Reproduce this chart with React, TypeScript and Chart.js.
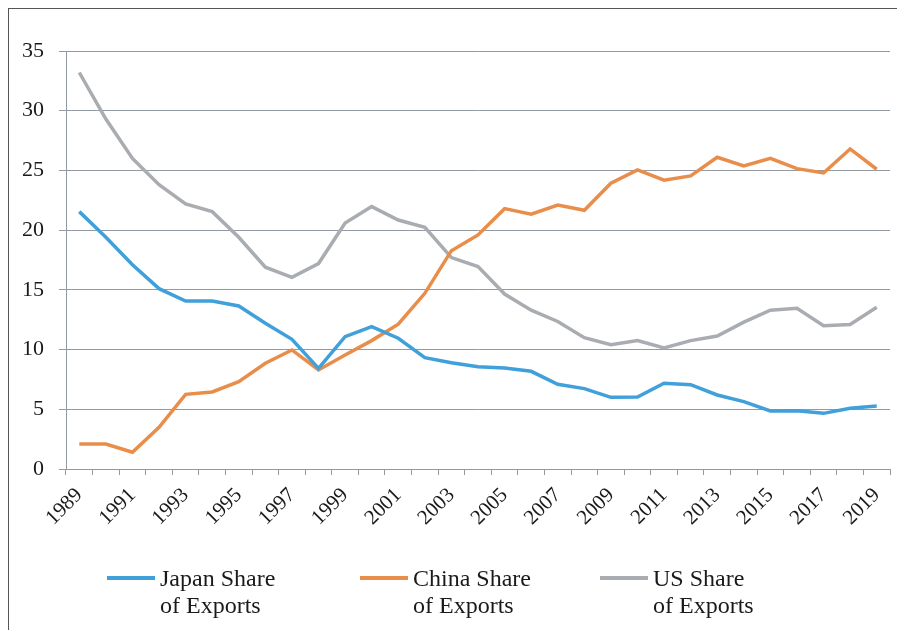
import React, { useEffect, useRef } from "react";
import { Chart, registerables } from "chart.js";

Chart.register(...registerables);

const years = [
  "1989", "1990", "1991", "1992", "1993", "1994", "1995", "1996", "1997", "1998",
  "1999", "2000", "2001", "2002", "2003", "2004", "2005", "2006", "2007", "2008",
  "2009", "2010", "2011", "2012", "2013", "2014", "2015", "2016", "2017", "2018", "2019",
];

const japanShare = [
  21.55, 19.4, 17.1, 15.1, 14.07, 14.07, 13.65, 12.2, 10.86, 8.43,
  11.08, 11.92, 10.95, 9.32, 8.9, 8.57, 8.46, 8.18, 7.09, 6.73,
  6.0, 6.03, 7.18, 7.06, 6.2, 5.64, 4.86, 4.88, 4.66, 5.08, 5.28,
];

const chinaShare = [
  2.09, 2.09, 1.4, 3.49, 6.25, 6.45, 7.31, 8.85, 9.97, 8.29,
  9.55, 10.75, 12.12, 14.71, 18.28, 19.6, 21.8, 21.33, 22.1, 21.66,
  23.93, 25.04, 24.18, 24.54, 26.1, 25.38, 26.02, 25.15, 24.79, 26.8, 25.1,
];

const usShare = [
  33.2, 29.3, 26.0, 23.8, 22.2, 21.55, 19.4, 16.9, 16.05, 17.2,
  20.6, 21.97, 20.85, 20.24, 17.7, 16.95, 14.65, 13.3, 12.35, 11.0,
  10.4, 10.75, 10.13, 10.75, 11.14, 12.3, 13.3, 13.45, 12.0, 12.1, 13.55,
];

const seriesNames = [
  ["Japan Share", "of Exports"],
  ["China Share", "of Exports"],
  ["US Share", "of Exports"],
];
const seriesColors = ["#3fa0da", "#e98d4a", "#a9acb1"];

const gridColor = "#939aa3";
const textColor = "#1a1a1a";
const fontFamily = "'Liberation Serif', 'Times New Roman', serif";

export default function App() {
  const canvasRef = useRef<HTMLCanvasElement | null>(null);

  useEffect(() => {
    const canvas = canvasRef.current;
    if (!canvas) return;
    const values = [japanShare, chinaShare, usShare];
    const chart = new Chart(canvas, {
      type: "line",
      data: {
        labels: years,
        datasets: values.map((v, i) => ({
          label: seriesNames[i].join(" "),
          data: v,
          borderColor: seriesColors[i],
          backgroundColor: seriesColors[i],
          borderWidth: 3.5,
          pointRadius: 0,
          tension: 0,
          fill: false,
        })),
      },
      options: {
        responsive: false,
        animation: false,
        devicePixelRatio: 1,
        layout: { padding: { top: 42, right: 7, left: 0, bottom: 0 } },
        plugins: {
          legend: { display: false },
          tooltip: { enabled: false },
        },
        scales: {
          x: {
            offset: true,
            grid: {
              offset: true,
              drawOnChartArea: false,
              drawTicks: true,
              tickLength: 6,
              color: gridColor,
              lineWidth: 1,
            },
            border: { display: true, color: gridColor, width: 1 },
            ticks: {
              autoSkip: false,
              maxRotation: 45,
              minRotation: 45,
              padding: 8,
              color: textColor,
              font: { family: fontFamily, size: 21 },
              callback: function (_v: any, index: number) {
                return index % 2 === 0 ? years[index] : "";
              },
            },
            afterFit: (scale: any) => {
              scale.height = 100;
              scale.paddingLeft = 0;
              scale.paddingRight = 0;
            },
          },
          y: {
            min: 0,
            max: 35,
            grid: {
              color: gridColor,
              lineWidth: 1,
              tickLength: 7,
              drawTicks: true,
            },
            border: { display: true, color: gridColor, width: 1 },
            ticks: {
              stepSize: 5,
              padding: 15,
              color: textColor,
              font: { family: fontFamily, size: 22 },
            },
            afterFit: (scale: any) => {
              scale.width = 57;
              scale.paddingTop = 0;
              scale.paddingBottom = 0;
            },
          },
        },
      },
    });
    return () => chart.destroy();
  }, []);

  const legendLefts = [98, 351, 591];

  return (
    <div
      style={{
        position: "fixed",
        left: 8,
        top: 8,
        width: 889,
        height: 622,
        boxSizing: "border-box",
        borderTop: "1px solid #555",
        borderLeft: "1px solid #555",
        background: "#fff",
      }}
    >
      <canvas
        ref={canvasRef}
        width={888}
        height={560}
        style={{ position: "absolute", left: 0, top: 0, width: 888, height: 560 }}
      />
      {seriesNames.map((lines, i) => (
        <div
          key={i}
          style={{
            position: "absolute",
            left: legendLefts[i],
            top: 556,
            display: "flex",
            alignItems: "flex-start",
            fontFamily,
            fontSize: 24,
            lineHeight: "27px",
            color: textColor,
          }}
        >
          <div
            style={{
              width: 48,
              height: 4,
              marginTop: 11,
              marginRight: 5,
              background: seriesColors[i],
            }}
          />
          <div>
            {lines.map((t, j) => (
              <div key={j} style={{ whiteSpace: "nowrap" }}>{t}</div>
            ))}
          </div>
        </div>
      ))}
    </div>
  );
}
